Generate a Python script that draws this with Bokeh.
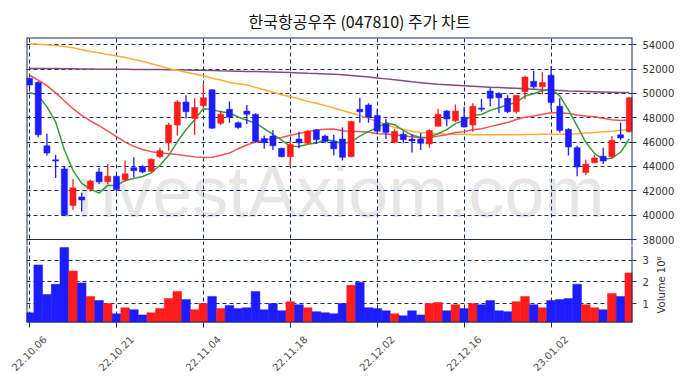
from math import pi
from bokeh.plotting import figure
from bokeh.layouts import column
from bokeh.models import (Range1d, FixedTicker, LinearAxis, Grid, Span, Label,
                          CustomJSTickFormatter, ColumnDataSource)
from bokeh.embed import file_html
from bokeh.resources import INLINE

title_text = "한국항공우주 (047810) 주가 차트"
volume_label = "Volume  10⁶"

dates = ["22.10.06", "22.10.07", "22.10.11", "22.10.12", "22.10.13", "22.10.14", "22.10.17",
         "22.10.18", "22.10.19", "22.10.20", "22.10.21", "22.10.24", "22.10.25", "22.10.26",
         "22.10.27", "22.10.28", "22.10.31", "22.11.01", "22.11.02", "22.11.03", "22.11.04",
         "22.11.07", "22.11.08", "22.11.09", "22.11.10", "22.11.11", "22.11.14", "22.11.15",
         "22.11.16", "22.11.17", "22.11.18", "22.11.21", "22.11.22", "22.11.23", "22.11.24",
         "22.11.25", "22.11.28", "22.11.29", "22.11.30", "22.12.01", "22.12.02", "22.12.05",
         "22.12.06", "22.12.07", "22.12.08", "22.12.09", "22.12.12", "22.12.13", "22.12.14",
         "22.12.15", "22.12.16", "22.12.19", "22.12.20", "22.12.21", "22.12.22", "22.12.23",
         "22.12.26", "22.12.27", "22.12.28", "22.12.29", "23.01.02", "23.01.03", "23.01.04",
         "23.01.05", "23.01.06", "23.01.09", "23.01.10", "23.01.11", "23.01.12", "23.01.13"]

opens = [51250, 50900, 45700, 44550, 43800, 40800, 41500, 42150, 43550, 42750,
         43200, 42900, 43900, 44000, 43600, 44800, 45950, 47400, 49300, 47950,
         49000, 50300, 47550, 48700, 47600, 48550, 48300, 46300, 46500, 45500,
         44800, 46250, 45900, 47000, 46500, 46050, 46250, 44800, 48700, 49050,
         48200, 47500, 46000, 46650, 46250, 46250, 45850, 47300, 48550, 47750,
         48050, 47400, 48800, 50200, 50000, 49600, 48500, 50150, 51000, 50550,
         51500, 48950, 47050, 45550, 43500, 44300, 44850, 44800, 46600, 46850]
highs = [51300, 51000, 46700, 44950, 43950, 42950, 41850, 42900, 43900, 44200,
         43300, 44500, 44750, 44100, 44650, 45550, 47600, 49450, 49850, 49600,
         50850, 50350, 48600, 49350, 47700, 49050, 48350, 46550, 47000, 45550,
         46150, 46850, 47000, 47050, 46600, 46600, 47200, 47750, 49650, 49200,
         48700, 47900, 47050, 46900, 46650, 46750, 47050, 48750, 48650, 49100,
         48900, 49200, 49550, 50450, 50100, 49850, 49850, 51450, 51850, 51750,
         52250, 49600, 47150, 45700, 44550, 44950, 45550, 46500, 47600, 49700]
lows = [50400, 46400, 44900, 43050, 39950, 40450, 40300, 41950, 42550, 42550,
        41950, 42750, 43100, 43450, 43550, 44650, 45300, 46550, 47950, 46600,
        48800, 47100, 47400, 47600, 47100, 47500, 45950, 45450, 45350, 44750,
        44000, 45500, 45850, 45850, 45950, 44900, 44500, 44750, 47600, 47600,
        46700, 46250, 45900, 45900, 45150, 45350, 45550, 47300, 47300, 47650,
        47200, 46850, 48500, 48950, 48400, 48400, 48350, 49550, 50400, 49950,
        48700, 46800, 44900, 43200, 43300, 44300, 44200, 44700, 46150, 46800]
closes = [50700, 46600, 45100, 44450, 40000, 42250, 41250, 42800, 42750, 43200,
          42100, 43400, 43650, 43550, 44600, 45300, 47400, 49300, 48500, 48850,
          49650, 47150, 48300, 48050, 47200, 48300, 46050, 45950, 45700, 44800,
          45800, 45950, 46900, 46200, 46050, 45450, 44750, 47700, 48500, 48050,
          46900, 46800, 46900, 46200, 46100, 45900, 46950, 48300, 47900, 48550,
          47250, 48950, 48700, 49600, 49650, 48500, 49850, 51350, 50550, 50900,
          49250, 46950, 45600, 43950, 44200, 44700, 44450, 46150, 46350, 49650]
volumes = [580000, 2780000, 1420000, 1890000, 3580000, 2500000, 1950000, 1330000, 1140000, 1000000,
           530000, 810000, 720000, 480000, 580000, 770000, 1230000, 1560000, 1190000, 720000,
           1000000, 1330000, 770000, 910000, 770000, 810000, 1560000, 720000, 1000000, 670000,
           1090000, 950000, 810000, 630000, 580000, 530000, 1000000, 1840000, 1980000, 810000,
           770000, 670000, 530000, 440000, 670000, 480000, 1000000, 1050000, 670000, 950000,
           770000, 1000000, 950000, 1140000, 670000, 630000, 1090000, 1330000, 950000, 810000,
           1140000, 1190000, 1230000, 1890000, 950000, 810000, 720000, 1470000, 1330000, 2410000]
ma5 = [50080, 49860, 48900, 47670, 45370, 43680, 42610, 42150, 41810, 42450,
       42420, 42850, 43020, 43180, 43460, 44100, 44900, 46030, 47020, 47870,
       48740, 48690, 48490, 48400, 48070, 47800, 47580, 47110, 46640, 46160,
       45660, 45640, 45830, 45930, 46180, 46110, 45870, 46030, 46490, 46890,
       47180, 47590, 47430, 46970, 46580, 46380, 46410, 46690, 47030, 47520,
       47790, 48190, 48270, 48610, 48830, 49080, 49260, 49790, 49980, 50230,
       50380, 49800, 48650, 47330, 45990, 45080, 44580, 44690, 45170, 46260]
ma20 = [51500, 51100, 50650, 50050, 49400, 48750, 48200, 47750, 47350, 46900,
        46450, 46000, 45650, 45400, 45220, 45120, 45050, 44980, 44880, 44790,
        44735, 44763, 44923, 45103, 45463, 45765, 46005, 46163, 46310, 46390,
        46575, 46703, 46865, 46998, 47070, 47078, 46945, 46865, 46865, 46825,
        46688, 46670, 46600, 46508, 46453, 46333, 46378, 46495, 46605, 46793,
        46865, 47015, 47105, 47275, 47455, 47608, 47863, 48045, 48148, 48290,
        48408, 48415, 48350, 48238, 48143, 48083, 47958, 47850, 47773, 47828]
ma60 = [54100, 54050, 54000, 53950, 53850, 53750, 53600, 53450, 53350, 53200,
        53100, 52950, 52800, 52650, 52450, 52250, 52050, 51900, 51750, 51600,
        51450, 51250, 51100, 50900, 50800, 50700, 50500, 50300, 50100, 49900,
        49750, 49550, 49350, 49200, 49000, 48800, 48600, 48400, 48200, 47950,
        47700, 47450, 47200, 47050, 46900, 46800, 46750, 46700, 46650, 46650,
        46650, 46600, 46600, 46600, 46600, 46600, 46600, 46620, 46630, 46640,
        46650, 46650, 46680, 46700, 46750, 46800, 46850, 46900, 46980, 47050]
ma120 = [52050, 52050, 52050, 52050, 52040, 52030, 52020, 52010, 52000, 52000,
         51990, 51990, 51980, 51980, 51970, 51970, 51960, 51950, 51930, 51910,
         51900, 51880, 51860, 51850, 51830, 51810, 51800, 51780, 51760, 51740,
         51720, 51690, 51660, 51640, 51610, 51570, 51530, 51480, 51420, 51350,
         51270, 51200, 51120, 51040, 50960, 50890, 50820, 50760, 50720, 50680,
         50640, 50600, 50560, 50520, 50490, 50460, 50420, 50380, 50340, 50300,
         50270, 50240, 50210, 50190, 50170, 50150, 50130, 50110, 50090, 50080]

price_ticks = [38000, 40000, 42000, 44000, 46000, 48000, 50000, 52000, 54000]
volume_ticks = [1, 2, 3]
date_tick_idx = [0, 10, 20, 30, 40, 50, 60]

# ---- geometry
X0, X1 = -0.35, 69.37
PRICE_TOP = 54600.0
PRICE_DIV = 38000.0
ppx = (PRICE_TOP - PRICE_DIV) / 202.0          # price per pixel
price_bottom = PRICE_DIV - 6 * ppx             # price frame extends 6px below divider
VOL_BOT = 0.13
vpx = (3.95 - VOL_BOT) / 83.0                  # volume (millions) per pixel
vol_top = VOL_BOT + 77 * vpx
LABEL_SHIFT = 1.75
VLABEL_START = VOL_BOT + 9 * vpx               # bottom end of the rotated volume label
WM_Y = PRICE_TOP - 154 * ppx                   # vertical middle of the watermark

NAVY = "#1b2b5f"
UP = "#fe1c1c"
DOWN = "#1c1cfc"
DASH = "4 3"

n = len(closes)
colors = [UP if c >= o else DOWN for o, c in zip(opens, closes)]
src = ColumnDataSource(dict(
    x=list(range(n)), open=opens, high=highs, low=lows, close=closes,
    top=[max(o, c) for o, c in zip(opens, closes)],
    bottom=[min(o, c) for o, c in zip(opens, closes)],
    vol=[v / 1e6 for v in volumes], color=colors,
    ma5=ma5, ma20=ma20, ma60=ma60, ma120=ma120,
))


def frame_edges(fig, left, right, top=None, bottom=None):
    for loc in (left, right):
        fig.add_layout(Span(location=loc, dimension="height", line_color=NAVY, line_width=2))
    for loc in (top, bottom):
        if loc is not None:
            fig.add_layout(Span(location=loc, dimension="width", line_color=NAVY, line_width=2))


def style_right_axis(ax):
    ax.axis_line_color = None
    ax.major_tick_line_color = NAVY
    ax.major_tick_out = 4
    ax.major_tick_in = 0
    ax.minor_tick_line_color = None
    ax.major_label_standoff = 6
    ax.major_label_text_font = "DejaVu Sans"
    ax.major_label_text_font_size = "10px"
    ax.major_label_text_color = "#333333"


# ================= price panel
pa = figure(width=683, height=245, output_backend="svg", toolbar_location=None,
            x_range=Range1d(X0, X1), y_range=Range1d(price_bottom, PRICE_TOP),
            x_axis_location=None, y_axis_location=None,
            min_border_left=26, min_border_right=51, min_border_top=37, min_border_bottom=0,
            title=title_text)
pa.grid.visible = False
pa.outline_line_color = None
pa.title.text_font = "Noto Sans CJK KR"
pa.title.text_font_size = "16px"
pa.title.text_font_style = "normal"
pa.title.text_color = "#111111"
pa.title.align = "left"
pa.title.offset = 222

wm = Label(x=34.6, y=WM_Y, text="InvestAxiom.com", text_font="Liberation Sans",
           text_font_size="72px", text_color="#e6e6e6", text_align="center",
           text_baseline="middle", level="underlay")
pa.add_layout(wm)
pa.add_layout(Grid(dimension=0, ticker=FixedTicker(ticks=date_tick_idx),
                   grid_line_color=NAVY, grid_line_dash=DASH, grid_line_width=1))
pa.add_layout(Grid(dimension=1, ticker=FixedTicker(ticks=price_ticks[1:]),
                   grid_line_color=NAVY, grid_line_dash=DASH, grid_line_width=1))

pa.line("x", "ma120", source=src, line_color="#7f4c80", line_width=1.5)
pa.line("x", "ma60", source=src, line_color="#ffae34", line_width=1.5)
pa.line("x", "ma20", source=src, line_color="#f25252", line_width=1.5)
pa.line("x", "ma5", source=src, line_color="#3c9a3c", line_width=1.5)
pa.segment("x", "high", "x", "low", source=src, line_color="color", line_width=1.3)
pa.vbar(x="x", width=0.7, top="top", bottom="bottom", source=src,
        fill_color="color", line_color="color", line_width=0.5)

frame_edges(pa, X0, X1, top=PRICE_TOP)
pa.add_layout(Span(location=PRICE_DIV, dimension="width", line_color=NAVY, line_width=1.2))

ya = LinearAxis(ticker=FixedTicker(ticks=price_ticks))
style_right_axis(ya)
pa.add_layout(ya, "right")

# ================= volume panel
pb = figure(width=683, height=133, output_backend="svg", toolbar_location=None,
            x_range=pa.x_range, y_range=Range1d(VOL_BOT, vol_top),
            x_axis_location=None, y_axis_location=None,
            min_border_left=26, min_border_right=51, min_border_top=0, min_border_bottom=56)
pb.grid.visible = False
pb.outline_line_color = None
pb.add_layout(Grid(dimension=0, ticker=FixedTicker(ticks=date_tick_idx),
                   grid_line_color=NAVY, grid_line_dash=DASH, grid_line_width=1))
pb.add_layout(Grid(dimension=1, ticker=FixedTicker(ticks=volume_ticks),
                   grid_line_color=NAVY, grid_line_dash=DASH, grid_line_width=1))
pb.vbar(x="x", width=1.0, top="vol", bottom=VOL_BOT, source=src,
        fill_color="color", line_color="color", line_width=0.5)
frame_edges(pb, X0, X1, bottom=VOL_BOT)

yb = LinearAxis(ticker=FixedTicker(ticks=volume_ticks))
style_right_axis(yb)
pb.add_layout(yb, "right")

# rotated "Volume 10^6" label, drawn as the single tick label of a second right axis
yl = LinearAxis(ticker=FixedTicker(ticks=[VLABEL_START]),
                formatter=CustomJSTickFormatter(args=dict(label=volume_label),
                                                code="return label;"))
yl.axis_line_color = None
yl.major_tick_line_color = None
yl.major_tick_out = 0
yl.major_tick_in = 0
yl.minor_tick_line_color = None
yl.major_label_orientation = pi / 2
yl.major_label_standoff = 10
yl.major_label_text_font = "DejaVu Sans"
yl.major_label_text_font_size = "10px"
yl.major_label_text_color = "#333333"
pb.add_layout(yl, "right")

# date axis: minor ticks mark the dates, labels sit on shifted major ticks
xl = LinearAxis(ticker=FixedTicker(ticks=[i + LABEL_SHIFT for i in date_tick_idx],
                                   minor_ticks=date_tick_idx),
                formatter=CustomJSTickFormatter(
                    args=dict(labels=dates, shift=LABEL_SHIFT),
                    code="return labels[Math.round(tick - shift)];"))
xl.axis_line_color = None
xl.major_tick_line_color = None
xl.major_tick_out = 0
xl.major_tick_in = 0
xl.minor_tick_line_color = NAVY
xl.minor_tick_out = 5
xl.minor_tick_in = 0
xl.major_label_orientation = pi / 4
xl.major_label_standoff = 10
xl.major_label_text_font = "DejaVu Sans"
xl.major_label_text_font_size = "10px"
xl.major_label_text_color = "#4d4d4d"
pb.add_layout(xl, "below")

layout = column(pa, pb, spacing=0)
open("out.html", "w").write(file_html(layout, INLINE))
